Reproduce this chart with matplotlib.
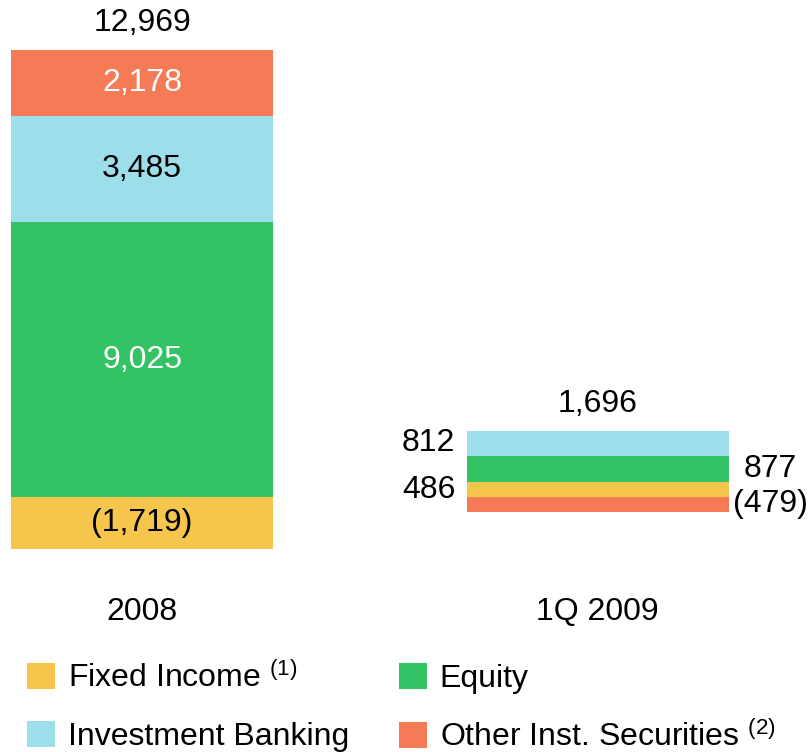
import matplotlib
matplotlib.use("Agg")
import matplotlib.pyplot as plt
from matplotlib.patches import Patch

plt.rcParams['font.family'] = ['Liberation Sans', 'DejaVu Sans']
plt.rcParams['mathtext.default'] = 'regular'

categories = ["2008", "1Q 2009"]
series_names = ["Fixed Income $^{(1)}$", "Equity", "Investment Banking", "Other Inst. Securities $^{(2)}$"]
fixed_income = [-1719, 486]
equity = [9025, 877]
investment_banking = [3485, 812]
other_inst = [2178, -479]
totals = [12969, 1696]

colors = ["#F5C54C", "#33C365", "#9DDEEB", "#F47B55"]
text_colors = ["black", "white", "black", "white"]

series = [fixed_income, equity, investment_banking, other_inst]

W, H = 811, 752
fig = plt.figure(figsize=(W / 100, H / 100), dpi=100)
ax = fig.add_axes([0, 0, 1, 1])
ax.set_axis_off()

# pixel mapping
px_per_unit = 0.03043  # px per value unit
base_px = 497
ax.set_ylim(-(H - base_px) / px_per_unit, base_px / px_per_unit)
x0_px, dx_px = 142, 455.5
ax.set_xlim(-x0_px / dx_px, (W - x0_px) / dx_px)
width = 262 / dx_px
x = list(range(len(categories)))

pos_bottom = [0.0] * len(categories)
neg_bottom = [0.0] * len(categories)
segments = []  # (series idx, cat idx, bottom, value)
for si, vals in enumerate(series):
    for ci, v in enumerate(vals):
        if v >= 0:
            b = pos_bottom[ci]
            pos_bottom[ci] += v
        else:
            b = neg_bottom[ci]
            neg_bottom[ci] += v
        ax.bar(x[ci], v, width=width, bottom=b, color=colors[si], linewidth=0)
        segments.append((si, ci, b, v))

def fmt(v):
    return f"({abs(v):,})" if v < 0 else f"{v:,}"

FS = 23
for si, ci, b, v in segments:
    yc = b + v / 2
    if ci == 0:
        ax.text(x[ci], yc, fmt(v), ha='center', va='center', fontsize=FS,
                color=text_colors[si])
    else:
        # small segments: labels outside; left for series 0 and 2, right for 1 and 3
        if si in (0, 2):
            ax.annotate(fmt(v), xy=(x[ci] - width / 2, yc), xytext=(-38 * 0.72, 0),
                        textcoords='offset points', ha='center', va='center',
                        fontsize=FS, color='black')
        else:
            ax.annotate(fmt(v), xy=(x[ci] + width / 2, yc), xytext=(42 * 0.72, 0),
                        textcoords='offset points', ha='center', va='center',
                        fontsize=FS, color='black')

for ci, t in enumerate(totals):
    ax.annotate(f"{t:,}", xy=(x[ci], pos_bottom[ci]), xytext=(0, 27 * 0.72),
                textcoords='offset points', ha='center', va='center', fontsize=FS)

for ci, c in enumerate(categories):
    ax.text(x[ci], -(612 - base_px) / px_per_unit, c, ha='center', va='center', fontsize=FS)

handles = [Patch(facecolor=colors[i], edgecolor='none', label=series_names[i]) for i in range(4)]
# order for 2 columns: col1 = FI, IB ; col2 = Equity, Other
order = [0, 2, 1, 3]
fig.legend([handles[i] for i in order], [series_names[i] for i in order],
           loc='upper left', bbox_to_anchor=(27 / W, 1 - 662 / H), ncol=2,
           frameon=False, fontsize=FS, handlelength=0.88, handleheight=0.88,
           handletextpad=0.4, columnspacing=1.55, labelspacing=0.85,
           borderpad=0, borderaxespad=0)

fig.savefig("out.png", dpi=100)
